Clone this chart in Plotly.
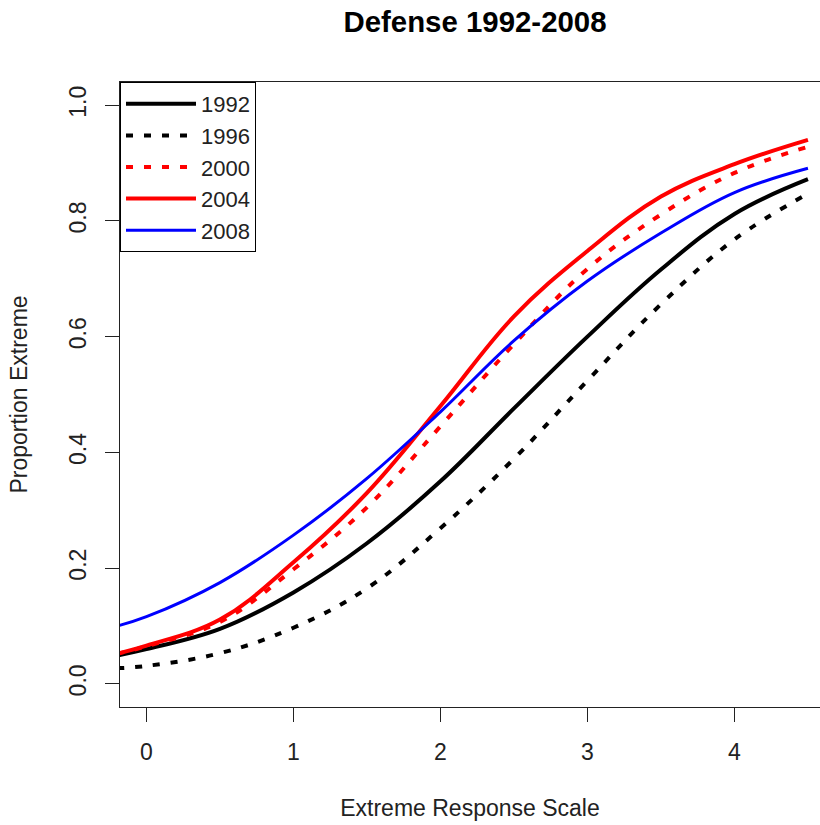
import plotly.graph_objects as go

# Extreme response scale positions (x) and the proportion answering at an extreme
scale_x = [-0.2, 0.0, 0.5, 1.0, 1.5, 2.0, 2.5, 3.0, 3.5, 4.0, 4.5]
p1992 = [0.049, 0.060, 0.095, 0.158, 0.243, 0.350, 0.476, 0.600, 0.716, 0.812, 0.872]
p1996 = [0.027, 0.031, 0.053, 0.097, 0.165, 0.269, 0.389, 0.524, 0.656, 0.768, 0.847]
p2000 = [0.052, 0.065, 0.107, 0.198, 0.305, 0.445, 0.587, 0.717, 0.811, 0.883, 0.928]
p2004 = [0.052, 0.066, 0.111, 0.210, 0.330, 0.480, 0.635, 0.748, 0.842, 0.898, 0.940]
p2008 = [0.100, 0.116, 0.175, 0.257, 0.355, 0.470, 0.593, 0.696, 0.779, 0.849, 0.891]

x_ticks = [0, 1, 2, 3, 4]
y_ticks = [0.0, 0.2, 0.4, 0.6, 0.8, 1.0]
y_tick_text = ["0.0", "0.2", "0.4", "0.6", "0.8", "1.0"]

FONT = "Liberation Sans, Arial, Helvetica, sans-serif"
INK = "#222222"
TXT = 23
DOT = "7px,11px"

series = [
    ("1992", p1992, "black", 4, "solid"),
    ("1996", p1996, "black", 4, DOT),
    ("2000", p2000, "red", 4, DOT),
    ("2004", p2004, "red", 4, "solid"),
    ("2008", p2008, "blue", 3, "solid"),
]

fig = go.Figure()
for name, ys, color, width, dash in series:
    fig.add_trace(go.Scatter(
        x=scale_x, y=ys, name=name, mode="lines",
        line=dict(color=color, width=width, dash=dash, shape="spline", smoothing=1.1),
    ))

fig.update_layout(
    width=820, height=825,
    margin=dict(l=120, r=0, t=82, b=118),
    paper_bgcolor="white", plot_bgcolor="white",
    font=dict(family=FONT, size=TXT, color=INK),
    title=dict(
        text="<b>Defense 1992-2008</b>",
        font=dict(family=FONT, size=29.4, color="black"),
        x=475 / 820, xref="container", xanchor="center",
        y=1 - 22 / 825, yref="container", yanchor="middle",
    ),
    showlegend=True,
    legend=dict(
        x=0, y=1, xanchor="left", yanchor="top",
        bordercolor="black", borderwidth=1, bgcolor="white",
        font=dict(family=FONT, size=22, color=INK),
        itemwidth=70, tracegroupgap=0,
    ),
    xaxis=dict(
        range=[-0.18, 4.582], tickvals=x_ticks,
        ticks="outside", ticklen=14, tickwidth=1, tickcolor=INK,
        showline=True, linecolor=INK, linewidth=1, mirror=True,
        showgrid=False, zeroline=False,
        tickfont=dict(size=TXT),
        title=dict(text="Extreme Response Scale", standoff=36,
                   font=dict(family=FONT, size=TXT, color=INK)),
        ticklabelstandoff=10,
    ),
    yaxis=dict(
        range=[-0.04, 1.04], tickvals=y_ticks, ticktext=y_tick_text,
        tickangle=-90,
        ticks="outside", ticklen=14, tickwidth=1, tickcolor=INK,
        showline=True, linecolor=INK, linewidth=1, mirror=False,
        showgrid=False, zeroline=False,
        tickfont=dict(size=TXT),
        title=dict(text="Proportion Extreme", standoff=30,
                   font=dict(family=FONT, size=TXT, color=INK)),
        ticklabelstandoff=10,
    ),
)

fig.write_html("out.html")
